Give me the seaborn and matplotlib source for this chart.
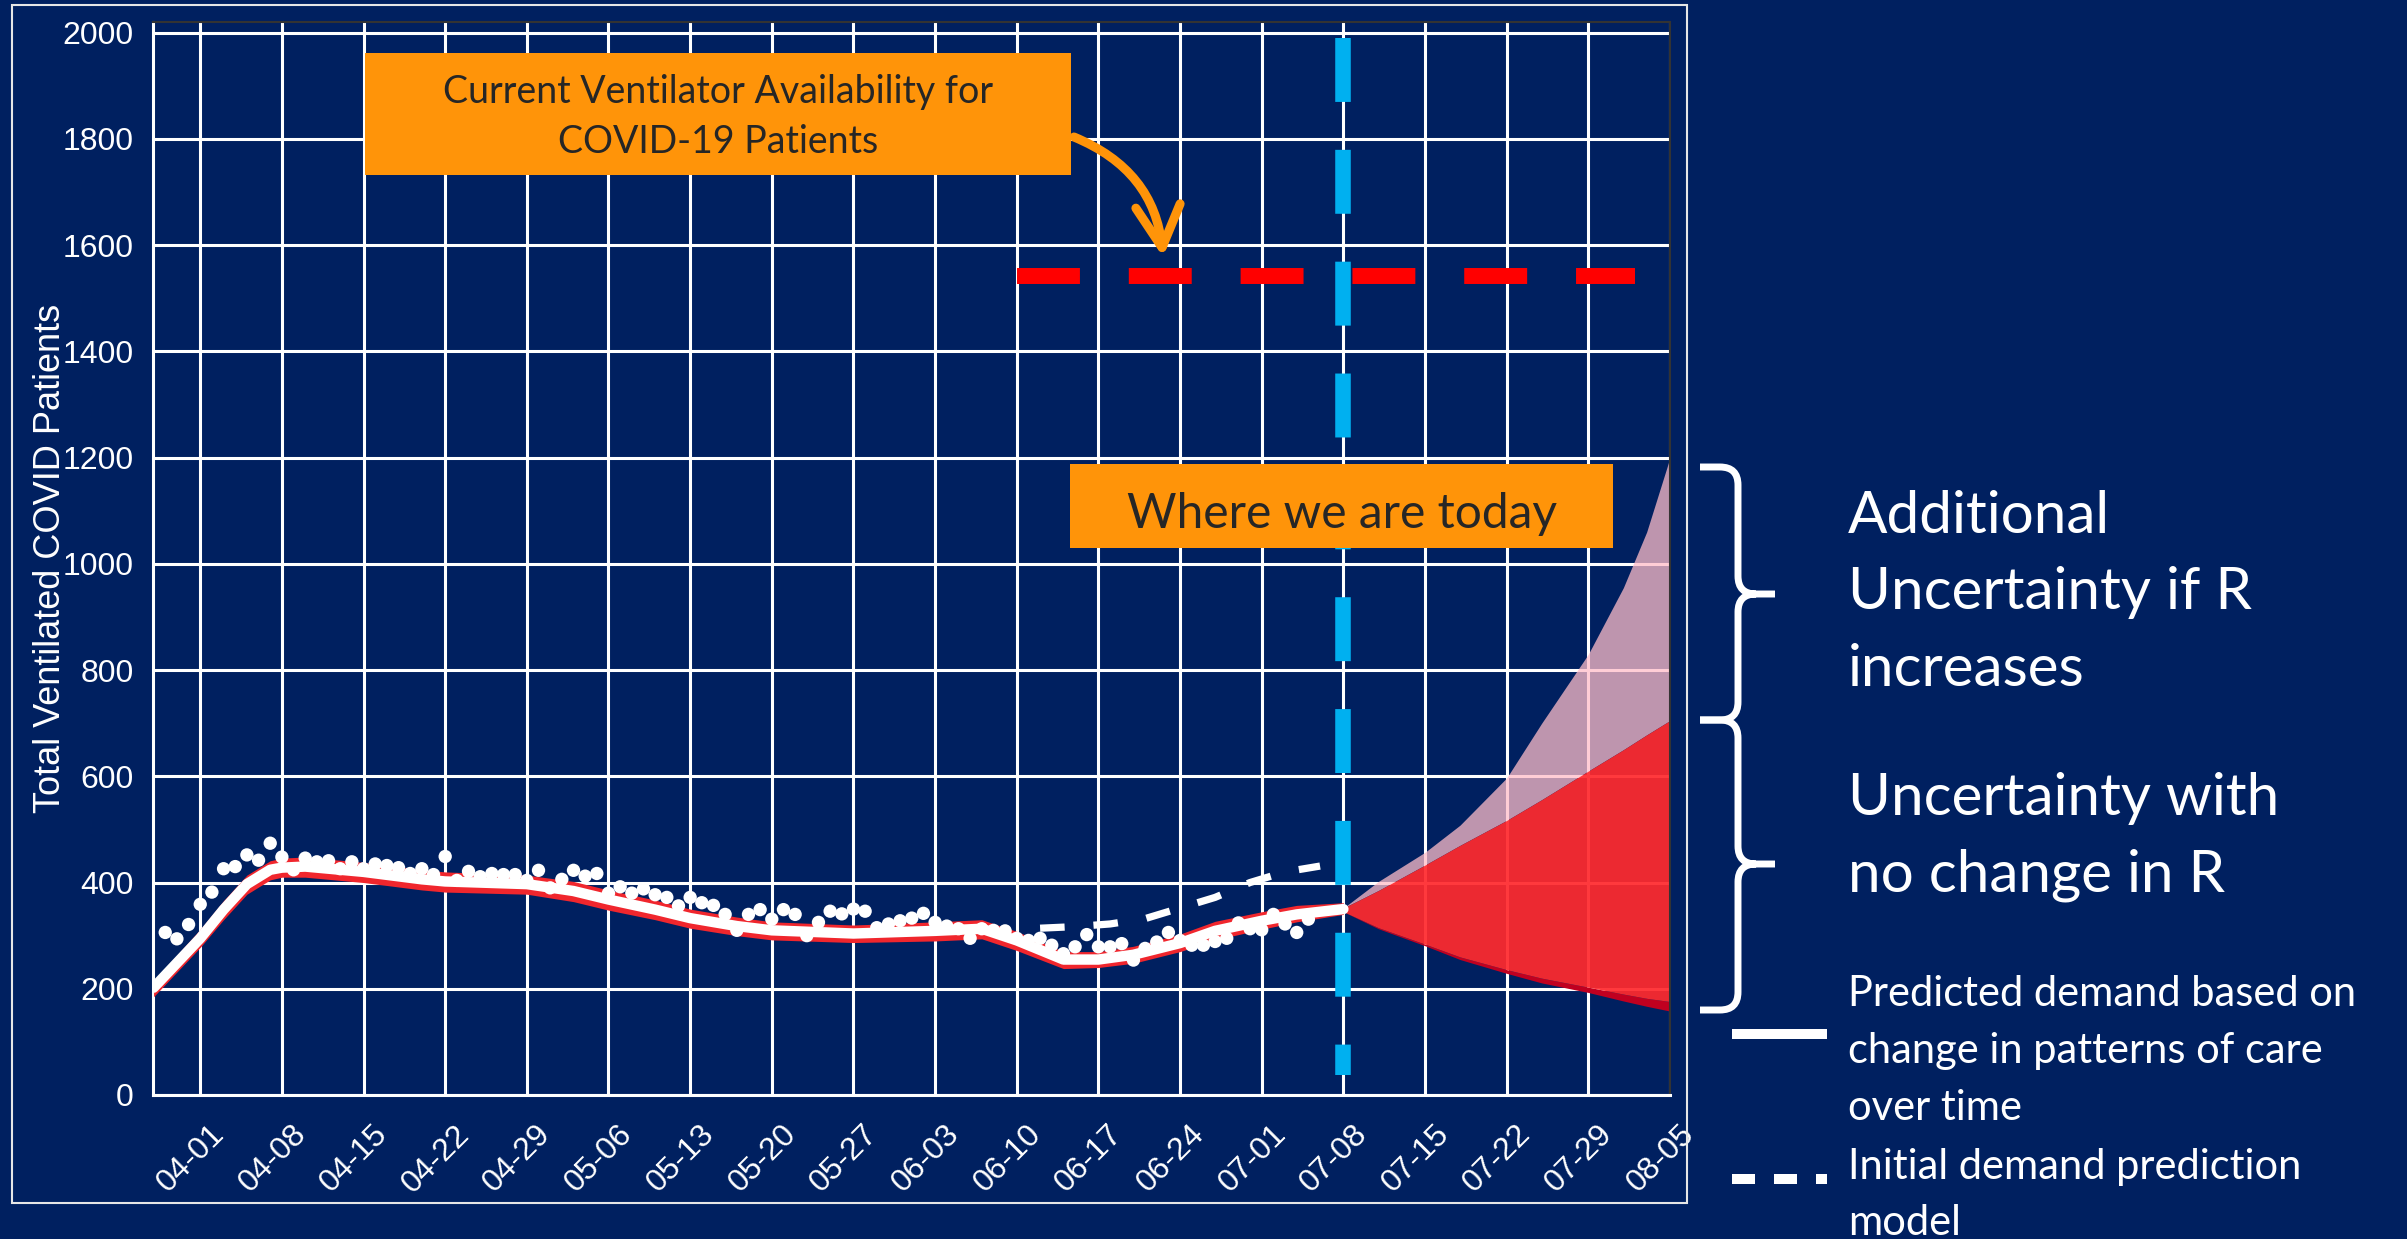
import pandas as pd
import seaborn as sns
import matplotlib.pyplot as plt
from matplotlib.patches import Rectangle, FancyArrowPatch, PathPatch
from matplotlib.path import Path
from matplotlib.lines import Line2D
from matplotlib.transforms import ScaledTranslation

# observed ventilated patients, one dot per day
obs_days = ['03-29', '03-30', '03-31', '04-01', '04-02', '04-03', '04-04', '04-05', '04-06', '04-07',
            '04-08', '04-09', '04-10', '04-11', '04-12', '04-13', '04-14', '04-15', '04-16', '04-17',
            '04-18', '04-19', '04-20', '04-21', '04-22', '04-23', '04-24', '04-25', '04-26', '04-27',
            '04-28', '04-29', '04-30', '05-01', '05-02', '05-03', '05-04', '05-05', '05-06', '05-07',
            '05-08', '05-09', '05-10', '05-11', '05-12', '05-13', '05-14', '05-15', '05-16', '05-17',
            '05-18', '05-19', '05-20', '05-21', '05-22', '05-23', '05-24', '05-25', '05-26', '05-27',
            '05-28', '05-29', '05-30', '05-31', '06-01', '06-02', '06-03', '06-04', '06-05', '06-06',
            '06-07', '06-08', '06-09', '06-10', '06-11', '06-12', '06-13', '06-14', '06-15', '06-16',
            '06-17', '06-18', '06-19', '06-20', '06-21', '06-22', '06-23', '06-24', '06-25', '06-26',
            '06-27', '06-28', '06-29', '06-30', '07-01', '07-02', '07-03', '07-04', '07-05']
obs_vals = [306, 294, 321, 359, 382, 426, 430, 452, 442, 474,
            448, 424, 446, 439, 441, 426, 439, 426, 435, 432,
            428, 417, 426, 415, 449, 404, 421, 411, 417, 415,
            415, 404, 423, 390, 406, 423, 412, 417, 380, 392,
            380, 388, 377, 372, 356, 372, 362, 357, 340, 310,
            340, 349, 331, 349, 340, 300, 325, 346, 341, 350,
            346, 315, 322, 328, 333, 342, 325, 318, 313, 295,
            313, 310, 309, 295, 291, 295, 282, 266, 279, 302,
            279, 279, 285, 254, 276, 288, 306, 291, 282, 282,
            289, 295, 324, 313, 311, 340, 322, 306, 331]

# predicted demand (white line) and its red ribbon
fit_days = ['03-28', '04-01', '04-03', '04-05', '04-07', '04-08', '04-10', '04-15', '04-20', '04-22',
            '04-29', '05-03', '05-06', '05-10', '05-13', '05-17', '05-20', '05-27', '06-03', '06-07',
            '06-10', '06-14', '06-17', '06-20', '06-24', '06-27', '07-01', '07-04', '07-08']
fit_vals = [202, 295, 349, 397, 424, 428, 430, 420, 406, 402,
            397, 384, 368, 349, 333, 318, 310, 304, 309, 313,
            291, 255, 255, 264, 286, 309, 328, 340, 350]
fit_hi = [215, 312, 366, 414, 441, 446, 448, 438, 424, 420,
          414, 402, 386, 367, 350, 335, 326, 320, 326, 330,
          308, 270, 270, 280, 303, 327, 345, 357, 362]
fit_lo = [185, 278, 330, 378, 405, 410, 410, 400, 386, 382,
          378, 364, 348, 330, 314, 300, 292, 287, 290, 294,
          272, 238, 240, 248, 270, 292, 312, 326, 340]

# initial demand prediction model (dashed)
init_days = ['06-12', '06-15', '06-18', '06-21', '06-24', '06-27', '06-30', '07-03', '07-06']
init_vals = [314, 317, 322, 332, 352, 372, 400, 420, 431]

# projection fan from today
fan_days = ['07-08', '07-11', '07-15', '07-18', '07-22', '07-25', '07-29', '08-01', '08-03', '08-05']
fan_r_up = [352, 402, 457, 508, 597, 700, 830, 955, 1060, 1200]
fan_hi = [352, 385, 433, 470, 517, 556, 610, 650, 678, 705]
fan_lo = [345, 315, 284, 260, 236, 220, 203, 190, 182, 176]
fan_lo_dark = [345, 313, 281, 255, 229, 211, 193, 177, 167, 158]

capacity = 1542
cap_days = ['06-10', '08-02']
today = '07-08'
today_span = [1989, 38]

tick_days = ['04-01', '04-08', '04-15', '04-22', '04-29', '05-06', '05-13', '05-20', '05-27', '06-03',
             '06-10', '06-17', '06-24', '07-01', '07-08', '07-15', '07-22', '07-29', '08-05']
y_ticks = [0, 200, 400, 600, 800, 1000, 1200, 1400, 1600, 1800, 2000]

NAVY = '#002060'
ORANGE = '#FF9409'
W, H = 2407, 1239


def d(s):
    return pd.to_datetime('2020-' + s)


def dd(lst):
    return [d(s) for s in lst]


def px(x, y):
    return (x / W, 1 - y / H)


sns.set_style('white', {'axes.facecolor': NAVY, 'figure.facecolor': NAVY})
plt.rcParams['font.family'] = ['Liberation Sans', 'DejaVu Sans']

fig = plt.figure(figsize=(24.07, 12.39), dpi=100, facecolor=NAVY)
ax = fig.add_axes([152.5 / W, 1 - 1095 / H, (1670 - 152.5) / W, (1095 - 22) / H])
ax.set_facecolor(NAVY)

# fan: pink for rising R, red for no change
ax.fill_between(dd(fan_days), fan_hi, fan_r_up, color='#FFBDC9', alpha=0.75, lw=0, zorder=2)
ax.fill_between(dd(fan_days), fan_lo_dark, fan_lo, color='#C00020', lw=0, zorder=2)
ax.fill_between(dd(fan_days), fan_lo, fan_hi, color='#FF2A2E', alpha=0.93, lw=0, zorder=2)

# fitted demand
ax.fill_between(dd(fit_days), fit_lo, fit_hi, color='#F0262D', lw=0, zorder=3)
sns.lineplot(x=dd(fit_days), y=fit_vals, color='white', lw=7.5, ax=ax, zorder=4)
sns.lineplot(x=dd(init_days), y=init_vals, color='white', lw=5.2,
             linestyle=(0, (3.4, 4.0)), ax=ax, zorder=4)
sns.scatterplot(x=dd(obs_days), y=obs_vals, color='white', s=92, edgecolor='none', ax=ax, zorder=5)

# ventilator capacity and today's marker
sns.lineplot(x=dd(cap_days), y=[capacity, capacity], color='#FF0000', lw=11.5,
             linestyle=(0, (3.94, 3.06)), ax=ax, zorder=6)
sns.lineplot(x=[d(today), d(today)], y=today_span, color='#00B0F0', lw=11.2, sort=False,
             estimator=None, linestyle=(0, (4.11, 3.08)), ax=ax, zorder=6)

ax.set_xlim(d('03-27') + pd.Timedelta(hours=21.8), d('08-05'))
ax.set_ylim(0, 2020)
ax.set_xticks(dd(tick_days))
ax.set_xticklabels(tick_days, rotation=45, ha='right', va='top', rotation_mode='anchor')
ax.set_yticks(y_ticks)
ax.grid(True, color='white', lw=2.2)
ax.set_axisbelow(True)
ax.tick_params(axis='both', colors='#333333', labelcolor='white', length=6.5, width=1.8,
               labelsize=23, direction='out')
ax.tick_params(axis='y', pad=7)
ax.tick_params(axis='x', pad=11)
for lab in ax.get_xticklabels():
    lab.set_transform(lab.get_transform() + ScaledTranslation(9 / 100, 0, fig.dpi_scale_trans))
for side in ['top', 'right']:
    ax.spines[side].set_color('#333333')
    ax.spines[side].set_linewidth(1.5)
for side in ['left', 'bottom']:
    ax.spines[side].set_color('white')
    ax.spines[side].set_linewidth(2.2)
ax.set_xlabel('')
ax.set_ylabel('Total Ventilated COVID Patients', fontsize=26, color='white')
ax.yaxis.set_label_coords(-0.0554, 0.5)
if ax.get_legend():
    ax.get_legend().remove()

# outer frame round the chart
fig.add_artist(Rectangle(px(12, 1203), (1687 - 12) / W, (1203 - 5) / H, transform=fig.transFigure,
                         fill=False, ec='#E6E6E6', lw=1.5))

# orange call-outs
lato = ['Lato', 'DejaVu Sans']
fig.add_artist(Rectangle(px(365, 175), (1071 - 365) / W, (175 - 53) / H, transform=fig.transFigure,
                         fc=ORANGE, ec='none', zorder=10))
fig.text(*px(718, 103), 'Current Ventilator Availability for', ha='center', va='baseline',
         fontsize=27, color='#262626', family=lato, zorder=11)
fig.text(*px(718, 153), 'COVID-19 Patients', ha='center', va='baseline',
         fontsize=27, color='#262626', family=lato, zorder=11)
fig.add_artist(FancyArrowPatch(px(1074, 137), px(1163, 257), transform=fig.transFigure,
                               connectionstyle='arc3,rad=-0.3',
                               arrowstyle='->,head_length=1.5,head_width=0.8', mutation_scale=20,
                               lw=6.5, color=ORANGE, shrinkA=0, shrinkB=0, zorder=10))

fig.add_artist(Rectangle(px(1070, 548), (1613 - 1070) / W, (548 - 464) / H, transform=fig.transFigure,
                         fc=ORANGE, ec='none', zorder=10))
fig.text(*px(1342, 528), 'Where we are today', ha='center', va='baseline',
         fontsize=34.5, color='#262626', family=lato, zorder=11)


# curly braces on the right
def brace(y0, ym, y1):
    x0, xv, xt, r = 1700, 1738, 1775, 18
    pts = [(x0, y0), (xv - r, y0), (xv, y0), (xv, y0 + r),
           (xv, ym - r), (xv, ym), (xv + r, ym), (xt, ym),
           (xv + r, ym), (xv, ym), (xv, ym + r),
           (xv, y1 - r), (xv, y1), (xv - r, y1), (x0, y1)]
    codes = [Path.MOVETO, Path.LINETO, Path.CURVE3, Path.CURVE3,
             Path.LINETO, Path.CURVE3, Path.CURVE3, Path.LINETO,
             Path.MOVETO, Path.CURVE3, Path.CURVE3,
             Path.LINETO, Path.CURVE3, Path.CURVE3, Path.LINETO]
    return PathPatch(Path([px(*p) for p in pts], codes), transform=fig.transFigure,
                     fill=False, ec='white', lw=5, capstyle='butt', joinstyle='round')


fig.add_artist(brace(467, 594, 720))
fig.add_artist(brace(720, 864, 1010))

big = dict(fontsize=42, color='white', family=lato, ha='left', va='baseline')
for yb, txt in [(533, 'Additional'), (609, 'Uncertainty if R'), (686, 'increases'),
                (815, 'Uncertainty with'), (891, 'no change in R')]:
    fig.text(*px(1848, yb), txt, **big)

small = dict(fontsize=30, color='white', family=lato, ha='left', va='baseline')
for yb, txt in [(1006, 'Predicted demand based on'), (1063, 'change in patterns of care'),
                (1120, 'over time'), (1179, 'Initial demand prediction'), (1235, 'model')]:
    fig.text(*px(1848, yb), txt, **small)

fig.add_artist(Line2D([1732 / W, 1827 / W], [1 - 1034 / H] * 2, transform=fig.transFigure,
                      color='white', lw=7.2, solid_capstyle='butt'))
fig.add_artist(Line2D([1732 / W, 1827 / W], [1 - 1179 / H] * 2, transform=fig.transFigure,
                      color='white', lw=7.2, linestyle=(0, (2.3, 1.9))))

fig.savefig('out.png', dpi=100, facecolor=NAVY)
